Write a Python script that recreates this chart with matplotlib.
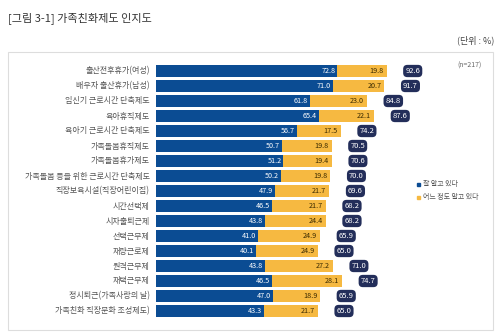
import matplotlib
matplotlib.use("Agg")
import matplotlib.pyplot as plt
from matplotlib.patches import Rectangle

plt.rcParams["font.family"] = ["Noto Sans CJK KR", "DejaVu Sans"]

# ---------------------------------------------------------------------------
# Data
# ---------------------------------------------------------------------------
categories = [
    "출산전후휴가(여성)",
    "배우자 출산휴가(남성)",
    "임신기 근로시간 단축제도",
    "육아휴직제도",
    "육아기 근로시간 단축제도",
    "가족돌봄휴직제도",
    "가족돌봄휴가제도",
    "가족돌봄 등을 위한 근로시간 단축제도",
    "직장보육시설(직장어린이집)",
    "시간선택제",
    "시차출퇴근제",
    "선택근무제",
    "재량근로제",
    "원격근무제",
    "재택근무제",
    "정시퇴근(가족사랑의 날)",
    "가족친화 직장문화 조성제도)",
]
well_known = [72.8, 71.0, 61.8, 65.4, 56.7, 50.7, 51.2, 50.2, 47.9,
              46.5, 43.8, 41.0, 40.1, 43.8, 46.5, 47.0, 43.3]
some_known = [19.8, 20.7, 23.0, 22.1, 17.5, 19.8, 19.4, 19.8, 21.7,
              21.7, 24.4, 24.9, 24.9, 27.2, 28.1, 18.9, 21.7]
totals = [92.6, 91.7, 84.8, 87.6, 74.2, 70.5, 70.6, 70.0, 69.6,
          68.2, 68.2, 65.9, 65.0, 71.0, 74.7, 65.9, 65.0]
series_names = ["잘 알고 있다", "어느 정도 알고 있다"]

BLUE = "#0B4C93"
YELLOW = "#F6B941"
NAVY = "#232E5A"
GRAY = "#555555"

W, H = 500, 334
fig = plt.figure(figsize=(W / 100, H / 100), dpi=100)
fig.patch.set_facecolor("white")

# title and unit
fig.text(8 / W, 1 - 18 / H, "[그림 3-1] 가족친화제도 인지도", fontsize=8,
         color="#333333", va="center", ha="left")
fig.text(494 / W, 1 - 40 / H, "(단위 : %)", fontsize=6.5,
         color="#444444", va="center", ha="right")

# outer frame
fig.patches.append(Rectangle((8 / W, 1 - 330 / H), 485 / W, 278 / H,
                             transform=fig.transFigure, fill=False,
                             edgecolor="#DDDDDD", linewidth=0.8))

# axes: left at x=156 px, 1 unit ~ 2.49 px
x0, x1 = 156, 490
n = len(categories)
row0, rowN = 71, 311
step = (rowN - row0) / (n - 1)
ytop = row0 - step / 2
ybot = rowN + step / 2
ax = fig.add_axes([x0 / W, 1 - ybot / H, (x1 - x0) / W, (ybot - ytop) / H])
ax.set_xlim(0, (x1 - x0) / 2.49)
ax.set_ylim(n - 0.5, -0.5)
ax.axis("off")

ypos = list(range(n))
ax.barh(ypos, well_known, height=0.74, color=BLUE, label=series_names[0])
ax.barh(ypos, some_known, left=well_known, height=0.74, color=YELLOW,
        label=series_names[1])

for i, (a, b, t) in enumerate(zip(well_known, some_known, totals)):
    ax.text(a - 0.8, i, f"{a:.1f}", ha="right", va="center",
            fontsize=5.2, color="white")
    ax.text(a + b - 1.2, i, f"{b:.1f}", ha="right", va="center",
            fontsize=5.2, color="#3A2A00")
    ax.text(t + 10.5, i, f"{t:.1f}", ha="center", va="center",
            fontsize=5.5, color="white",
            bbox=dict(boxstyle="round,pad=0.28,rounding_size=0.55",
                      facecolor=NAVY, edgecolor="none"))
    ax.text(-2.5, i, categories[i], ha="right", va="center",
            fontsize=5.8, color=GRAY)

# n label
fig.text(482 / W, 1 - 66 / H, "(n=217)", fontsize=5, color="#666666",
         ha="right", va="center")

# legend
for k, (name, c) in enumerate(zip(series_names, [BLUE, YELLOW])):
    yy = 1 - (184 + 13 * k) / H
    fig.patches.append(Rectangle((417 / W, yy - 1.5 / H), 3 / W, 3 / H,
                                 transform=fig.transFigure, color=c))
    fig.text(423 / W, yy, name, fontsize=5, color="#555555", va="center",
             ha="left")

fig.savefig("out.png", dpi=100)
